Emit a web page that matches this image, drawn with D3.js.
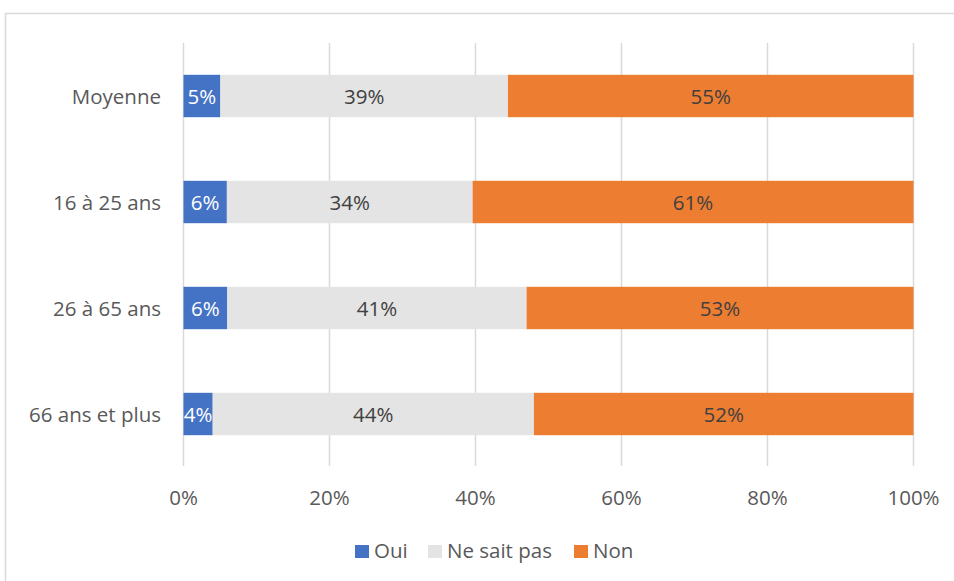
<!DOCTYPE html>
<html><head><meta charset="utf-8">
<script src="https://cdn.jsdelivr.net/npm/d3@7"></script>
<style>body{margin:0;background:#fff}svg{display:block;font-family:"Open Sans","Noto Sans",sans-serif}</style>
</head><body><svg id="c" width="954" height="581"></svg>
<script>
const categories = ["Moyenne", "16 à 25 ans", "26 à 65 ans", "66 ans et plus"];
const seriesNames = ["Oui", "Ne sait pas", "Non"];
const oui = [5, 6, 6, 4];
const nsp = [39, 34, 41, 44];
const non = [55, 61, 53, 52];
const tickValues = [0, 0.2, 0.4, 0.6, 0.8, 1];
const colors = ["#4472C4", "#E4E4E4", "#ED7D31"];
const labelColors = ["#ffffff", "#404040", "#404040"];

const rows = categories.map((c, i) => ({cat: c, "Oui": oui[i], "Ne sait pas": nsp[i], "Non": non[i]}));
const stack = d3.stack().keys(seriesNames).offset(d3.stackOffsetExpand)(rows);

const FS = 20.5;
const svg = d3.select("#c");
svg.append("rect").attr("x", 5.5).attr("y", 13.5).attr("width", 960).attr("height", 600)
  .attr("fill", "none").attr("stroke", "#d9d9d9").attr("stroke-width", 1.5);

const x = d3.scaleLinear().domain([0, 1]).range([183.5, 913.5]);
const y = d3.scaleBand().domain(categories).range([43, 467]).paddingInner(0.6).paddingOuter(0.3);

// gridlines
svg.append("g").selectAll("line").data(tickValues).join("line")
  .attr("x1", d => x(d)).attr("x2", d => x(d)).attr("y1", 43).attr("y2", 466)
  .attr("stroke", "#d9d9d9").attr("stroke-width", 1.5);

// x tick labels
svg.append("g").selectAll("text").data(tickValues).join("text")
  .attr("x", d => x(d)).attr("y", 505).attr("text-anchor", "middle")
  .attr("font-size", FS).attr("fill", "#595959").text(d => d3.format(".0%")(d));

// category labels
svg.append("g").selectAll("text").data(categories).join("text")
  .attr("x", 161).attr("y", d => y(d) + y.bandwidth() / 2 + 7.5).attr("text-anchor", "end")
  .attr("font-size", FS).attr("fill", "#595959").text(d => d);

// bars
stack.forEach((s, si) => {
  const g = svg.append("g");
  g.selectAll("rect").data(s).join("rect")
    .attr("x", d => x(d[0])).attr("width", d => x(d[1]) - x(d[0]))
    .attr("y", d => y(d.data.cat)).attr("height", y.bandwidth())
    .attr("fill", colors[si]);
  g.selectAll("text").data(s).join("text")
    .attr("x", d => (x(d[0]) + x(d[1])) / 2).attr("y", d => y(d.data.cat) + y.bandwidth() / 2 + 7.5)
    .attr("text-anchor", "middle").attr("font-size", FS).attr("fill", labelColors[si])
    .text(d => d.data[s.key] + "%");
});

// legend
const legendX = [355, 428, 574];
const lg = svg.append("g");
seriesNames.forEach((n, i) => {
  lg.append("rect").attr("x", legendX[i]).attr("y", 545).attr("width", 14).attr("height", 13).attr("fill", colors[i]);
  lg.append("text").attr("x", legendX[i] + 19).attr("y", 558).attr("font-size", FS).attr("fill", "#595959").text(n);
});
</script></body></html>
